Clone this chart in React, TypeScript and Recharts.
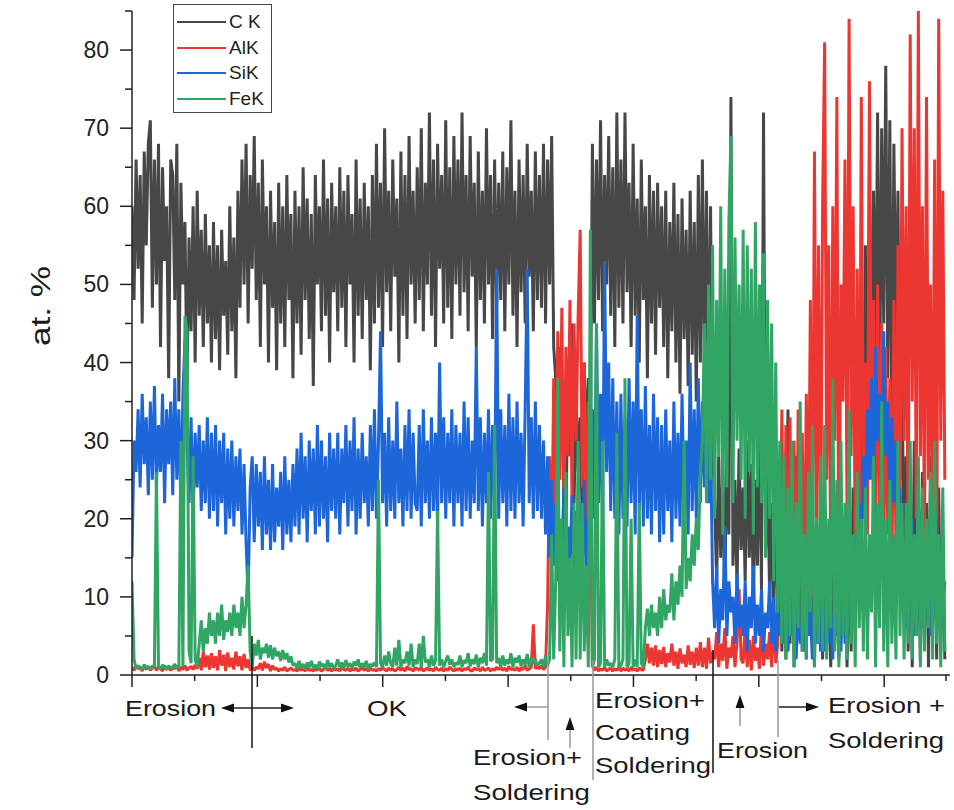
import { LineChart, Line, XAxis, YAxis, Legend } from "recharts";

// sample spacing along the scan (axis units)
const STEP = 0.0325;

// C K (at.%)
const CK = [
  60, 48, 66, 52, 64, 45, 67, 55, 68, 71, 47, 66, 50, 68, 42, 65, 53, 60, 38, 66,
  64, 48, 68, 35, 63, 50, 58, 37, 56, 44, 60, 40, 62, 46, 57, 42, 59, 45, 55, 40,
  58, 43, 55, 39, 57, 46, 53, 41, 60, 44, 56, 38, 62, 47, 66, 50, 68, 45, 64, 52,
  69, 48, 63, 42, 66, 50, 60, 40, 62, 47, 58, 39, 63, 45, 60, 42, 64, 48, 59, 38,
  62, 45, 60, 41, 65, 48, 61, 43, 59, 37, 64, 50, 60, 44, 66, 46, 61, 40, 63, 49,
  60, 44, 65, 47, 62, 42, 64, 50, 59, 40, 66, 46, 61, 43, 63, 48, 60, 39, 64, 45,
  68, 47, 63, 42, 70, 49, 62, 44, 66, 51, 61, 40, 67, 46, 64, 43, 69, 50, 62, 45,
  65, 48, 70, 44, 63, 50, 72, 46, 66, 42, 68, 52, 64, 45, 71, 47, 65, 43, 69, 50,
  66, 46, 72, 49, 64, 44, 69, 51, 63, 42, 67, 48, 62, 45, 70, 50, 64, 43, 66, 47,
  63, 48, 67, 44, 65, 50, 71, 46, 62, 42, 66, 49, 64, 45, 68, 51, 62, 44, 67, 48,
  64, 47, 68, 45, 66, 50, 69, 42, 38, 25, 42, 30, 35, 18, 40, 28, 45, 22, 36, 26,
  33, 20, 40, 28, 38, 30, 68, 45, 66, 48, 71, 44, 64, 50, 69, 46, 65, 42, 72, 47,
  66, 45, 72, 49, 63, 42, 68, 46, 61, 40, 66, 48, 60, 38, 64, 45, 62, 41, 63, 47,
  60, 42, 62, 38, 58, 44, 63, 40, 59, 36, 61, 43, 57, 37, 62, 41, 58, 35, 64, 40,
  66, 38, 62, 35, 60, 30, 22, 12, 28, 15, 26, 10, 30, 18, 74, 14, 25, 11, 29, 16,
  24, 12, 30, 15, 27, 9, 25, 14, 32, 11, 72, 16, 26, 10, 22, 8, 28, 5, 20, 3,
  18, 2, 34, 4, 22, 1, 28, 6, 15, 3, 24, 2, 30, 5, 12, 1, 20, 4, 16, 2,
  22, 3, 14, 1, 25, 4, 18, 2, 12, 5, 20, 1, 16, 3, 24, 6, 28, 10, 40, 20,
  55, 25, 66, 30, 62, 40, 72, 35, 70, 45, 78, 38, 71, 30, 68, 42, 62, 25, 40, 12,
  28, 3, 24, 1, 30, 5, 18, 2, 26, 4, 22, 1, 28, 6, 20, 2, 24, 3, 18, 2,
];

// AlK
const AL = [
  1, 0.6, 1.2, 0.8, 1, 0.5, 1.3, 0.7, 1.1, 0.6, 0.9, 1.2, 0.6, 1, 0.8, 0.5, 1.2, 0.7, 1, 0.6,
  1, 0.8, 1.2, 0.5, 1, 0.7, 1.2, 0.6, 0.9, 1.1, 0.7, 1.3, 0.8, 2.2, 0.6, 3, 1, 2.5, 0.7, 2.8,
  0.9, 2.4, 0.6, 3.2, 1.2, 2.6, 0.5, 2.9, 1, 2.2, 0.7, 3, 1.1, 2.4, 0.6, 2.7, 0.9, 2, 0.6, 1,
  0.6, 1, 0.8, 1.5, 0.6, 1.7, 0.9, 1.4, 0.5, 1.2, 0.7, 0.9, 0.5, 0.8, 0.6, 1, 0.5, 0.7, 0.9, 0.6,
  0.7, 0.5, 0.9, 0.6, 0.8, 0.5, 1, 0.6, 0.7, 0.5, 0.8, 0.6, 0.9, 0.5, 0.7, 1, 0.6, 0.8, 0.5, 0.9,
  0.6, 0.8, 0.5, 1, 0.7, 0.6, 0.9, 0.5, 0.8, 0.6, 0.9, 0.5, 0.7, 1, 0.6, 0.8, 0.5, 0.9, 0.6, 0.7,
  0.5, 0.8, 0.6, 1, 0.7, 0.5, 0.9, 0.6, 0.8, 0.5, 0.7, 1, 0.6, 0.9, 0.5, 1.1, 0.7, 0.8, 0.5, 0.9,
  0.8, 0.6, 1, 0.5, 0.7, 0.9, 0.6, 0.8, 0.5, 1, 0.7, 0.6, 0.9, 0.5, 0.8, 0.6, 1, 0.7, 0.5, 0.8,
  0.6, 0.9, 0.5, 0.8, 0.7, 1, 0.6, 0.5, 0.9, 0.7, 0.8, 0.5, 1, 0.6, 0.7, 0.9, 0.5, 0.8, 0.6, 1,
  0.7, 1, 0.6, 0.9, 0.5, 1.1, 0.7, 0.8, 0.6, 1, 0.5, 0.9, 0.7, 1.2, 0.6, 0.8, 1, 6.5, 0.8, 1.1,
  0.8, 1.2, 0.7, 1, 9, 28, 14, 38, 20, 44, 25, 47, 18, 42, 28, 48, 22, 45, 30, 46,
  57, 24, 40, 18, 35, 22, 1.2, 0.6, 1, 0.5, 0.8, 0.6, 1, 0.5, 0.7, 0.9, 0.5, 0.8, 0.6, 1,
  0.5, 0.9, 0.6, 0.8, 0.5, 1, 0.6, 0.8, 0.5, 0.9, 0.7, 0.6, 2, 4, 1.5, 3.5, 1.2, 3.8, 1, 3.2,
  1.4, 3.6, 1, 2.8, 1.6, 4, 1.2, 3, 0.8, 3.4, 1.5, 2.6, 1, 3.8, 1.3, 3, 0.9, 3.5, 1.2, 4.2,
  1, 3.5, 0.8, 4.8, 1.5, 3, 2, 5.5, 1, 4, 1.8, 6, 0.8, 3.5, 2.2, 5, 1, 4.2, 11, 2,
  1.5, 6, 1, 4.5, 0.6, 5, 1.8, 3.5, 0.8, 6.5, 1.2, 4, 2, 5.5, 1, 8, 1.5, 4, 12, 34,
  10, 32, 6, 33, 12, 30, 4, 34, 15, 31, 8, 36, 14, 48, 10, 67, 20, 55, 12, 60,
  81, 25, 55, 12, 60, 30, 74, 8, 50, 35, 66, 20, 84, 28, 60, 15, 52, 10, 74, 22,
  40, 18, 76, 25, 48, 15, 50, 20, 45, 12, 42, 18, 38, 10, 48, 15, 55, 20, 70, 30,
  60, 15, 82, 35, 70, 20, 85, 28, 60, 15, 74, 25, 50, 18, 66, 10, 84, 30, 62, 25,
];

// SiK
const SI = [
  15, 30, 26, 34, 24, 36, 27, 33, 23, 35, 25, 37, 24, 32, 26, 36, 22, 34, 27, 35,
  23, 38, 25, 34, 21, 36, 43, 30, 22, 33, 20, 31, 24, 32, 21, 30, 22, 33, 20, 31,
  21, 32, 19, 30, 22, 31, 18, 29, 20, 30, 19, 28, 21, 29, 18, 27, 17, 10, 24, 28,
  17, 27, 19, 26, 16, 28, 18, 25, 16, 27, 17, 24, 19, 26, 16, 28, 18, 25, 17, 27,
  19, 29, 18, 31, 20, 28, 17, 30, 21, 29, 18, 32, 19, 30, 20, 28, 17, 31, 21, 29,
  20, 31, 18, 29, 22, 32, 19, 30, 21, 33, 18, 29, 20, 31, 22, 28, 19, 32, 21, 34,
  20, 30, 44, 22, 31, 19, 33, 21, 30, 20, 35, 22, 29, 19, 32, 21, 34, 20, 31, 22,
  21, 32, 19, 34, 22, 30, 20, 33, 21, 31, 19, 40, 22, 33, 20, 31, 22, 34, 19, 32,
  22, 31, 19, 35, 21, 33, 20, 30, 22, 42, 21, 33, 19, 31, 22, 34, 20, 32, 21, 52,
  20, 34, 22, 32, 19, 36, 21, 33, 20, 35, 22, 31, 19, 34, 52, 22, 33, 20, 35, 21,
  32, 20, 30, 18, 28, 15, 25, 14, 22, 12, 20, 15, 24, 11, 19, 14, 23, 12, 21, 16,
  22, 13, 25, 12, 20, 15, 34, 20, 45, 22, 36, 19, 53, 26, 40, 21, 38, 20, 35, 18,
  36, 20, 33, 19, 38, 22, 35, 18, 46, 21, 34, 19, 37, 20, 32, 18, 36, 21, 33, 17,
  32, 18, 34, 21, 30, 17, 35, 20, 31, 19, 36, 22, 30, 18, 40, 21, 34, 20, 38, 22,
  35, 24, 36, 22, 30, 12, 6, 14, 4, 11, 7, 19, 5, 12, 8, 10, 4, 13, 6, 9,
  5, 12, 3, 10, 6, 14, 4, 9, 5, 11, 3, 8, 6, 12, 4, 10, 3, 9, 5, 11,
  4, 10, 3, 8, 5, 12, 2, 9, 4, 7, 3, 11, 5, 8, 2, 10, 4, 12, 3, 9,
  3, 10, 4, 8, 2, 11, 5, 9, 3, 12, 4, 10, 6, 14, 8, 18, 12, 22, 15, 28,
  20, 34, 25, 38, 22, 42, 30, 36, 24, 44, 28, 35, 20, 33, 22, 30, 18, 24, 12, 16,
  6, 18, 8, 20, 5, 14, 9, 21, 6, 12, 10, 19, 5, 15, 8, 20, 6, 13, 9, 12,
];

// FeK
const FE = [
  12, 2, 0.8, 1.2, 1, 0.7, 1.3, 0.9, 1.1, 0.7, 1.2, 1, 26, 1, 0.8, 1.3, 1, 0.7, 1.2, 0.9,
  1, 1.4, 0.8, 1.2, 30, 1, 46, 44, 3, 1.5, 28, 2, 1, 4, 7, 3, 6, 4, 8, 5,
  7, 4, 8, 5, 9, 4.5, 7, 5.5, 8, 5, 9, 6, 8, 5, 10, 6, 9, 14, 3, 1,
  4, 2.5, 4.5, 2, 3.5, 2.8, 4, 2.2, 3.8, 2, 3.5, 2.4, 3, 1.8, 3.2, 2, 2.8, 1.6, 2.4, 1.2,
  1.5, 0.8, 1.8, 1, 1.4, 0.7, 1.6, 1, 1.8, 0.9, 1.3, 0.8, 1.7, 1.1, 1.4, 0.7, 1.9, 1, 1.5, 0.8,
  1.2, 2, 1, 1.6, 0.8, 1.9, 1.1, 1.5, 0.9, 1.7, 1.2, 2, 0.9, 1.5, 1, 1.8, 0.8, 1.4, 1.1, 1.6,
  1, 25, 1.5, 1, 2.5, 1.2, 3, 1.5, 1, 3.5, 1.2, 4.5, 1, 2, 1.5, 3, 1.2, 4, 1, 2,
  1.4, 4, 1, 5, 1.6, 2, 1, 2.5, 1.2, 1.8, 21, 1.2, 2, 1, 1.8, 2.5, 1.3, 2, 1, 1.6,
  1.3, 2.5, 1, 1.9, 1.5, 2.8, 1.1, 2, 1.4, 2.6, 1, 2.2, 1.5, 2.8, 1.2, 26, 1.8, 2, 32, 1.5,
  2.2, 1, 2.5, 1.2, 2, 1.4, 2.8, 1, 2.2, 1.6, 2.5, 1.1, 2, 1.3, 2.7, 1, 2.2, 1.5, 2, 1.2,
  1.5, 2, 1, 2.5, 1.2, 2, 18, 2, 12, 38, 3, 20, 1, 26, 5, 15, 1, 22, 2, 30,
  2, 22, 3, 14, 1, 57, 1, 2, 45, 1, 1.5, 30, 1, 2, 1.2, 1.5, 1, 2, 31, 1,
  1.2, 2, 38, 1, 1.5, 20, 1, 2, 1, 22, 1.5, 1, 6, 8.5, 5, 9, 6, 8, 5, 10,
  6, 11, 7, 9, 8, 13, 7, 12, 9, 14, 10, 30, 11, 15, 12, 18, 14, 20, 16, 26,
  30, 45, 22, 50, 25, 55, 20, 48, 28, 60, 18, 52, 24, 58, 69, 22, 56, 30, 50, 25,
  57, 20, 55, 26, 52, 18, 58, 24, 50, 22, 54, 15, 48, 20, 45, 12, 40, 8, 30, 4,
  28, 2, 24, 5, 30, 1, 22, 6, 35, 3, 18, 2, 26, 8, 32, 1, 20, 4, 28, 3,
  32, 2, 20, 6, 38, 3, 25, 1, 30, 5, 22, 2, 34, 4, 18, 1, 26, 6, 20, 3,
  24, 2, 18, 8, 28, 1, 22, 6, 35, 3, 20, 1, 25, 4, 18, 2, 30, 5, 22, 2,
  22, 4, 30, 2, 18, 5, 28, 1, 24, 3, 20, 6, 26, 2, 30, 4, 18, 1, 24, 3,
];

const Y_TICKS = [0, 5, 10, 15, 20, 25, 30, 35, 40, 45, 50, 55, 60, 65, 70, 75, 80, 85];
const X_TICKS = [0, 1, 2, 3, 4, 5, 6, 7, 8, 9, 10, 11, 12, 13];

const SERIES = [
  { key: "ck", name: "C K", color: "#474747" },
  { key: "al", name: "AlK", color: "#ec3631" },
  { key: "si", name: "SiK", color: "#1d66d9" },
  { key: "fe", name: "FeK", color: "#30a564" },
];

const data = CK.map((v, i) => ({ x: i * STEP, ck: v, al: AL[i], si: SI[i], fe: FE[i] }));

const FONT = "'Liberation Sans', Arial, sans-serif";
const PLOT_LEFT = 132;
const PLOT_BOTTOM = 675;

function YTick(props: any) {
  const { y, payload } = props;
  const major = payload.value % 10 === 0;
  return (
    <g>
      <line x1={PLOT_LEFT - (major ? 12 : 7)} x2={PLOT_LEFT} y1={y} y2={y} stroke="#222" strokeWidth={1.5} />
      {major && (
        <text x={PLOT_LEFT - 23} y={y + 8} textAnchor="end" fontSize={23} fontFamily={FONT} fill="#222">
          {payload.value}
        </text>
      )}
    </g>
  );
}

function XTick(props: any) {
  const { x, payload } = props;
  const major = payload.value % 2 === 0;
  return <line x1={x} x2={x} y1={PLOT_BOTTOM} y2={PLOT_BOTTOM + (major ? 12 : 6)} stroke="#222" strokeWidth={1.5} />;
}

function LegendBox() {
  return (
    <div style={{ width: 99, height: 109, border: "1px solid #444", boxSizing: "border-box", background: "#fff", paddingTop: 4 }}>
      {SERIES.map((s) => (
        <div key={s.key} style={{ display: "flex", alignItems: "center", height: 25.7 }}>
          <svg width={52} height={4} style={{ marginLeft: 3 }}>
            <line x1={0} x2={49} y1={2} y2={2} stroke={s.color} strokeWidth={2.2} />
          </svg>
          <span style={{ fontFamily: FONT, fontSize: 19, color: "#222", lineHeight: "20px" }}>{s.name}</span>
        </div>
      ))}
    </div>
  );
}

function Arrow({ x1, y1, x2, y2, shaft = "#222" }: { x1: number; y1: number; x2: number; y2: number; shaft?: string }) {
  const len = Math.hypot(x2 - x1, y2 - y1);
  const ux = (x2 - x1) / len;
  const uy = (y2 - y1) / len;
  const bx = x2 - ux * 13;
  const by = y2 - uy * 13;
  const hw = 4.5;
  return (
    <g>
      <line x1={x1} y1={y1} x2={bx} y2={by} stroke={shaft} strokeWidth={1.5} />
      <polygon points={`${x2},${y2} ${bx - uy * hw},${by + ux * hw} ${bx + uy * hw},${by - ux * hw}`} fill="#111" />
    </g>
  );
}

function Label({ x, y, w, children }: { x: number; y: number; w: number; children: string }) {
  return (
    <text x={x} y={y} fontSize={22} fontFamily={FONT} fill="#1a1a1a" textLength={w} lengthAdjust="spacingAndGlyphs">
      {children}
    </text>
  );
}

function Annotations() {
  return (
    <svg width={954} height={810} style={{ position: "absolute", left: 0, top: 0, pointerEvents: "none" }}>
      <text
        x={0}
        y={0}
        transform="translate(50 306) rotate(-90)"
        textAnchor="middle"
        fontSize={27}
        fontFamily={FONT}
        fill="#1a1a1a"
        textLength={80}
        lengthAdjust="spacingAndGlyphs"
      >
        at. %
      </text>

      <line x1={252} x2={252} y1={636} y2={748} stroke="#111" strokeWidth={1.5} />
      <line x1={548} x2={548} y1={655} y2={740} stroke="#999" strokeWidth={1.5} />
      <line x1={593} x2={593} y1={660} y2={780} stroke="#999" strokeWidth={1.5} />
      <line x1={713} x2={713} y1={650} y2={773} stroke="#111" strokeWidth={1.5} />
      <line x1={778} x2={778} y1={660} y2={737} stroke="#999" strokeWidth={1.5} />

      <Arrow x1={252} y1={708} x2={221} y2={708} />
      <Arrow x1={252} y1={708} x2={294} y2={708} />
      <Arrow x1={548} y1={707} x2={514} y2={707} shaft="#999" />
      <Arrow x1={570} y1={748} x2={570} y2={717} shaft="#999" />
      <Arrow x1={740} y1={726} x2={740} y2={695} shaft="#999" />
      <Arrow x1={779} y1={707} x2={819} y2={707} />

      <Label x={125} y={716} w={91}>Erosion</Label>
      <Label x={367} y={716} w={40}>OK</Label>
      <Label x={473} y={765} w={109}>Erosion+</Label>
      <Label x={473} y={800} w={117}>Soldering</Label>
      <Label x={595} y={708} w={110}>Erosion+</Label>
      <Label x={595} y={740} w={95}>Coating</Label>
      <Label x={595} y={773} w={116}>Soldering</Label>
      <Label x={717} y={758} w={91}>Erosion</Label>
      <Label x={828} y={713} w={117}>Erosion +</Label>
      <Label x={828} y={748} w={116}>Soldering</Label>
    </svg>
  );
}

export default function App() {
  return (
    <div style={{ position: "absolute", left: 0, top: 0, width: 954, height: 810, background: "#fff" }}>
      <LineChart width={954} height={810} data={data} margin={{ top: 11, right: 4, bottom: 105, left: 72 }}>
        <XAxis
          type="number"
          dataKey="x"
          domain={[0, 13.05]}
          ticks={X_TICKS}
          tick={<XTick />}
          tickLine={false}
          axisLine={{ stroke: "#222", strokeWidth: 1.5 }}
          height={30}
          allowDataOverflow
        />
        <YAxis
          type="number"
          domain={[0, 85]}
          ticks={Y_TICKS}
          tick={<YTick />}
          tickLine={false}
          axisLine={{ stroke: "#222", strokeWidth: 1.5 }}
          width={60}
          allowDataOverflow
        />
        {SERIES.map((s) => (
          <Line
            key={s.key}
            type="linear"
            dataKey={s.key}
            name={s.name}
            stroke={s.color}
            strokeWidth={3}
            strokeLinejoin="bevel"
            dot={false}
            isAnimationActive={false}
          />
        ))}
        <Legend
          layout="vertical"
          align="center"
          verticalAlign="middle"
          content={() => <LegendBox />}
          wrapperStyle={{ left: 173, top: 4, width: 99, height: 109 }}
        />
      </LineChart>
      <Annotations />
    </div>
  );
}
